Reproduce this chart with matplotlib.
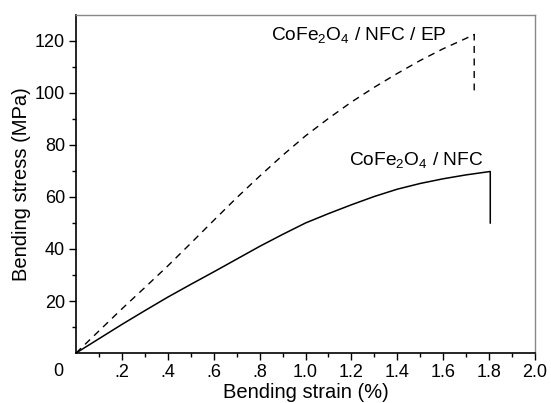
import numpy as np
import matplotlib.pyplot as plt

plt.rcParams['font.family'] = ['Liberation Sans', 'DejaVu Sans']
plt.rcParams['mathtext.fontset'] = 'custom'
plt.rcParams['mathtext.rm'] = 'Liberation Sans'
plt.rcParams['mathtext.it'] = 'Liberation Sans:italic'

# CoFe2O4 / NFC / EP (dashed)
strain_ep = [0, 0.1, 0.2, 0.3, 0.4, 0.5, 0.6, 0.7, 0.8, 0.9, 1.0, 1.1, 1.2,
             1.3, 1.4, 1.5, 1.6, 1.7, 1.735, 1.735]
stress_ep = [0, 8.5, 17, 25.2, 33.5, 42.2, 51, 59.7, 68, 76, 83.5, 90.2, 96.5,
             102.2, 107.5, 112.5, 117, 121, 122.5, 101]
# CoFe2O4 / NFC (solid)
strain_nfc = [0, 0.1, 0.2, 0.3, 0.4, 0.5, 0.6, 0.7, 0.8, 0.9, 1.0, 1.1, 1.2,
              1.3, 1.4, 1.5, 1.6, 1.7, 1.805, 1.805]
stress_nfc = [0, 5.5, 11, 16.3, 21.5, 26.4, 31.2, 36.1, 41, 45.6, 50, 53.6, 57,
              60.2, 63, 65.2, 67, 68.5, 69.8, 50]

xticks = [0.2, 0.4, 0.6, 0.8, 1.0, 1.2, 1.4, 1.6, 1.8, 2.0]
xticklabels = ['.2', '.4', '.6', '.8', '1.0', '1.2', '1.4', '1.6', '1.8', '2.0']
yticks = [20, 40, 60, 80, 100, 120]

fig = plt.figure(figsize=(5.51, 4.03), dpi=100)
ax = fig.add_axes([0.138, 0.124, 0.833, 0.839])

ax.plot(strain_ep, stress_ep, color='black', lw=1.0, linestyle=(0, (5, 4)))
ax.plot(strain_nfc, stress_nfc, color='black', lw=1.1)

ax.set_xlim(0, 2.0)
ax.set_ylim(0, 130)
ax.set_xticks(xticks)
ax.set_xticklabels(xticklabels)
ax.set_xticks(np.arange(0.1, 2.0, 0.2), minor=True)
ax.set_yticks(yticks)
ax.set_yticks(np.arange(10, 130, 20), minor=True)
ax.tick_params(axis='both', which='major', direction='out', length=5, width=1, labelsize=13, pad=3)
ax.tick_params(axis='both', which='minor', direction='out', length=3, width=1)

for s in ['top', 'right']:
    ax.spines[s].set_color('#888888')
    ax.spines[s].set_linewidth(1.0)
for s in ['left', 'bottom']:
    ax.spines[s].set_linewidth(1.2)

# corner zero label
ax.text(-0.039, -0.054, '0', transform=ax.transAxes, ha='center', va='center', fontsize=13)

ax.set_xlabel('Bending strain (%)', fontsize=14.5, labelpad=1)
ax.set_ylabel('Bending stress (MPa)', fontsize=14.5, labelpad=3)

ax.text(0.848, 120.3, 'CoFe$_2$O$_4$ / NFC / EP', fontsize=13.8, ha='left', va='baseline')
ax.text(1.191, 72.2, 'CoFe$_2$O$_4$ / NFC', fontsize=13.8, ha='left', va='baseline')

fig.savefig('out.png', dpi=100)
